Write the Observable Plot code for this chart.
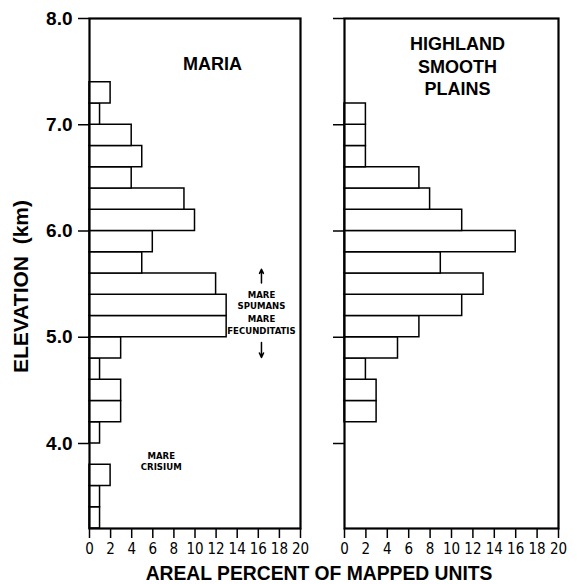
<!DOCTYPE html>
<html>
<head>
<meta charset="utf-8">
<script src="https://cdn.jsdelivr.net/npm/d3@7"></script>
<script src="https://cdn.jsdelivr.net/npm/@observablehq/plot@0.6"></script>
<style>
  body { margin: 0; background: #fff; }
  #wrap { position: relative; width: 577px; height: 584px; overflow: hidden; background: #fff; }
  #wrap svg { position: absolute; top: 0; }
</style>
</head>
<body>
<div id="wrap"></div>
<script>
// ---- data ----
const binBottoms = [3.2, 3.4, 3.6, 3.8, 4.0, 4.2, 4.4, 4.6, 4.8, 5.0, 5.2, 5.4, 5.6, 5.8, 6.0, 6.2, 6.4, 6.6, 6.8, 7.0, 7.2];
const binWidth = 0.2;
const mariaPct    = [1, 1, 2, 0, 1, 3, 3, 1, 3, 13, 13, 12, 5, 6, 10, 9, 4, 5, 4, 1, 2];
const highlandPct = [0, 0, 0, 0, 0, 3, 3, 2, 5, 7, 11, 13, 9, 16, 11, 8, 7, 2, 2, 2, 0];
const elevTicks = [4, 5, 6, 7, 8];
const pctTicks = [0, 2, 4, 6, 8, 10, 12, 14, 16, 18, 20];
const elevDomain = [3.2, 8.0];
const pctDomain = [0, 20];
const mariaTitle = "MARIA";
const highlandTitle = "HIGHLAND\nSMOOTH\nPLAINS";
const yLabel = "ELEVATION  (km)";
const xLabel = "AREAL PERCENT OF MAPPED UNITS";
const noteLabels = ["MARE\nSPUMANS", "MARE\nFECUNDITATIS", "MARE\nCRISIUM"];
const notePct = [16.3, 16.3, 6.8];
const noteElev = [5.35, 5.12, 3.835];
const arrowPct = [16.3, 16.3];
const arrowFrom = [5.51, 4.95];
const arrowTo = [5.64, 4.81];

// ---- derived tables ----
const bins = (vals) => binBottoms.map((b, i) => ({lo: b, hi: +(b + binWidth).toFixed(1), pct: vals[i]})).filter(d => d.pct > 0);
const notes = noteLabels.map((t, i) => ({text: t, x: notePct[i], y: noteElev[i]}));
const arrows = arrowPct.map((x, i) => ({x, y1: arrowFrom[i], y2: arrowTo[i]}));

const FONT = "'Liberation Sans', Arial, Helvetica, sans-serif";
const NARROW = "'Liberation Sans Narrow', 'DejaVu Sans Condensed', 'Liberation Sans', Arial, sans-serif";
const H = 584, MT = 18, MB = 56;

function panel({vals, width, ml, mr, title, tdx, tdy, left}) {
  const marks = [
    Plot.rect(bins(vals), {x1: 0, x2: "pct", y1: "lo", y2: "hi", fill: "white", stroke: "black", strokeWidth: 1.5}),
    Plot.frame({stroke: "black", strokeWidth: 2.2}),
    Plot.axisX({ticks: pctTicks, tickSize: 10, tickPadding: 5, fontSize: 15, fontFamily: NARROW, strokeWidth: 1.5, label: null}),
    Plot.text([title], {frameAnchor: "top", dx: tdx, dy: tdy, lineAnchor: "middle", lineHeight: 1.25, fontSize: 18, fontWeight: "bold", fontFamily: FONT})
  ];
  if (left) {
    marks.push(
      Plot.axisY({ticks: elevTicks, tickSize: 11, tickPadding: 6, tickFormat: d3.format(".1f"), fontSize: 19, fontWeight: "bold", fontFamily: FONT, strokeWidth: 1.5, label: null}),
      Plot.text([yLabel], {frameAnchor: "left", textAnchor: "middle", rotate: -90, dx: -68, dy: 13, fontSize: 21, fontWeight: "bold", fontFamily: FONT}),
      Plot.text([xLabel], {frameAnchor: "bottom", textAnchor: "middle", lineAnchor: "middle", dx: 124, dy: 45, fontSize: 19.3, fontWeight: "bold", fontFamily: FONT}),
      Plot.text(notes, {x: "x", y: "y", text: "text", lineAnchor: "middle", lineHeight: 1.2, fontSize: 9.5, fontWeight: "bold", fontFamily: NARROW}),
      Plot.arrow(arrows, {x1: "x", x2: "x", y1: "y1", y2: "y2", stroke: "black", strokeWidth: 1.5, headLength: 6, headAngle: 50})
    );
  } else {
    marks.push(Plot.axisY({ticks: elevTicks, tickSize: 11, tickFormat: () => "", strokeWidth: 1.5, label: null}));
  }
  return Plot.plot({
    width, height: H,
    marginLeft: ml, marginRight: mr, marginTop: MT, marginBottom: MB,
    x: {domain: pctDomain},
    y: {domain: elevDomain},
    style: {background: "transparent", overflow: "visible", color: "black"},
    marks
  });
}

const wrap = document.getElementById("wrap");
const leftSvg = panel({vals: mariaPct, width: 322, ml: 89, mr: 22, title: mariaTitle, tdx: 17.5, tdy: 44, left: true});
leftSvg.style.left = "0px";
const rightSvg = panel({vals: highlandPct, width: 255, ml: 22, mr: 19, title: highlandTitle, tdx: 6, tdy: 47, left: false});
rightSvg.style.left = "322px";
wrap.appendChild(leftSvg);
wrap.appendChild(rightSvg);
</script>
</body>
</html>
